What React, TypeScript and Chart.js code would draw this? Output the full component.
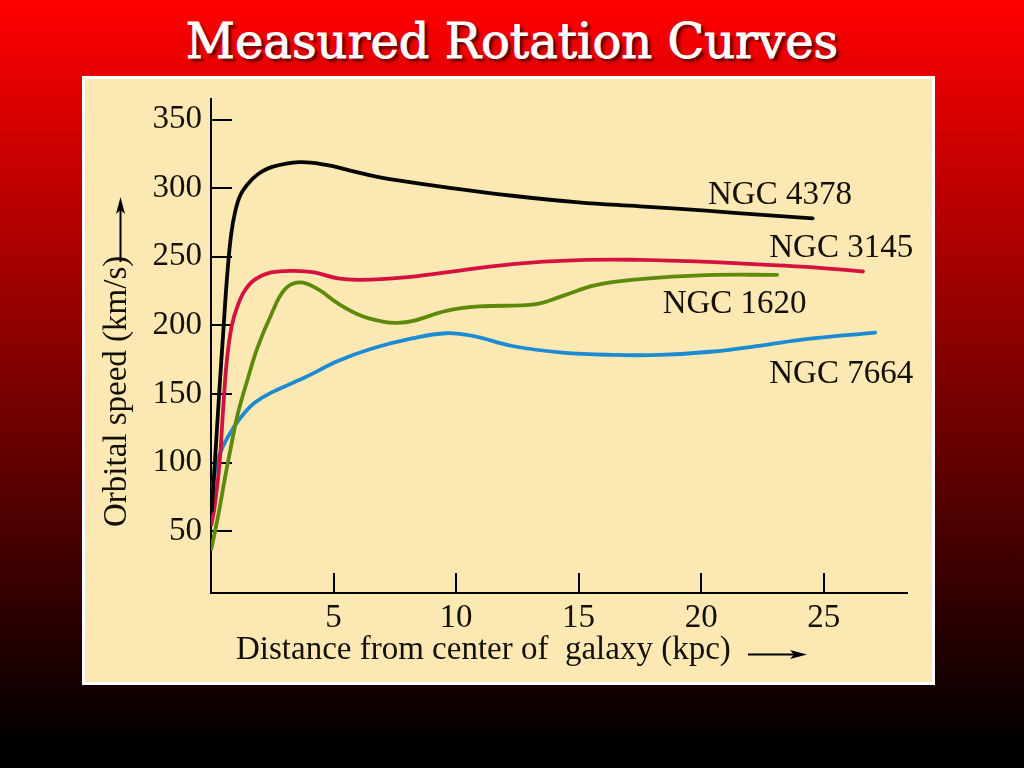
import React, { useEffect, useRef } from "react";
import { Chart, registerables } from "chart.js";

Chart.register(...registerables);

// ---- data ----
const xTicks = [5, 10, 15, 20, 25];
const yTicks = [50, 100, 150, 200, 250, 300, 350];

const ngc4378X = [0.03, 0.12, 0.21, 0.35, 0.5, 0.65, 0.82, 1.0, 1.2, 1.5, 1.9, 2.5, 3.6, 4.7, 5.65, 6.74, 7.7, 9.6, 12.3, 15.0, 17.5, 20.2, 22.5, 24.55];
const ngc4378Y = [65, 90, 115, 155, 195, 234, 266, 284, 295, 303, 310, 315.5, 319, 317, 313, 308.5, 305.5, 300.6, 294.5, 289.7, 286.8, 283.6, 280.5, 278];

const ngc3145X = [0.02, 0.15, 0.35, 0.5, 0.65, 0.85, 1.1, 1.4, 1.8, 2.46, 3.41, 4.22, 5.18, 6.13, 7.9, 9.6, 12.3, 15.0, 17.5, 19.5, 21.56, 24.28, 26.6];
const ngc3145Y = [55, 68, 100, 140, 175, 200, 215, 226, 233.5, 238.6, 239.8, 238.6, 234.2, 233.2, 235, 238.6, 244.7, 247.6, 247.8, 246.8, 245.2, 242.7, 239.3];

const ngc1620X = [0.01, 0.3, 0.56, 0.82, 1.1, 1.5, 1.9, 2.46, 3.0, 3.61, 4.36, 5.18, 6.13, 7.0, 7.6, 8.3, 9.6, 10.95, 13.27, 14.35, 15.7, 17.5, 20.2, 23.1];
const ngc1620Y = [37, 62, 88, 112, 136, 161, 184, 208, 226, 231.3, 226.4, 216, 207, 202.8, 201.8, 203.5, 210.6, 213.8, 215.5, 221.5, 229.3, 233.7, 236.6, 236.9];

const ngc7664X = [0.01, 0.04, 0.21, 0.49, 0.96, 1.37, 1.78, 2.46, 3.82, 5.18, 6.54, 8.2, 9.6, 10.68, 12.3, 14.35, 16.4, 18.3, 20.5, 22.5, 24.28, 27.1];
const ngc7664Y = [66, 75.5, 97.4, 112, 126.6, 136.4, 143.7, 151, 162, 174, 183, 190.5, 194.3, 192.3, 185, 180.2, 178.5, 178.5, 181, 185.5, 190, 194.8];

const seriesNames = ["NGC 4378", "NGC 3145", "NGC 1620", "NGC 7664"];
const seriesColors = ["#060606", "#d3123f", "#5e8a0c", "#1b8bd3"];
const labelX = [20.28, 22.78, 18.43, 22.78];
const labelY = [288.5, 250.1, 208.8, 157.8];

const xTitle = "Distance from center of  galaxy (kpc)";
const yTitle = "Orbital speed (km/s)";
const mainTitle = "Measured Rotation Curves";

const FONT = "'Liberation Serif', 'Times New Roman', serif";
const TEXT_COLOR = "#141008";
const CREAM = "#fce8b2";

function toPoints(xs: number[], ys: number[]) {
  return xs.map((x, i) => ({ x, y: ys[i] }));
}

const labelPlugin = {
  id: "curveLabels",
  afterDatasetsDraw(chart: any) {
    const { ctx, scales } = chart;
    ctx.save();
    ctx.font = `33px ${FONT}`;
    ctx.fillStyle = TEXT_COLOR;
    ctx.textAlign = "left";
    ctx.textBaseline = "alphabetic";
    seriesNames.forEach((name, i) => {
      ctx.fillText(name, scales.x.getPixelForValue(labelX[i]), scales.y.getPixelForValue(labelY[i]));
    });
    ctx.restore();
  },
};

export default function App() {
  const canvasRef = useRef<HTMLCanvasElement | null>(null);

  useEffect(() => {
    if (!canvasRef.current) return;
    const seriesX = [ngc4378X, ngc3145X, ngc1620X, ngc7664X];
    const seriesY = [ngc4378Y, ngc3145Y, ngc1620Y, ngc7664Y];
    const chart = new Chart(canvasRef.current, {
      type: "line",
      data: {
        datasets: seriesNames.map((name, i) => ({
          label: name,
          data: toPoints(seriesX[i], seriesY[i]),
          borderColor: seriesColors[i],
          borderWidth: 3.8,
          borderCapStyle: "round" as const,
          borderJoinStyle: "round" as const,
          pointRadius: 0,
          fill: false,
          tension: 0.4,
        })),
      },
      options: {
        animation: false,
        responsive: false,
        events: [],
        layout: { padding: { top: 20, right: 25, left: 0, bottom: 0 } },
        plugins: { legend: { display: false }, tooltip: { enabled: false }, title: { display: false } },
        scales: {
          x: {
            type: "linear",
            min: 0,
            max: 28.4,
            afterBuildTicks: (scale: any) => {
              scale.ticks = xTicks.map((v) => ({ value: v }));
            },
            afterFit: (scale: any) => {
              scale.height = 89;
              scale.paddingLeft = 0;
              scale.paddingRight = 0;
            },
            grid: { drawOnChartArea: false, drawTicks: true, tickLength: -20, color: "#000", lineWidth: 2 },
            border: { display: true, color: "#000", width: 2 },
            ticks: { padding: 26, color: TEXT_COLOR, font: { family: FONT, size: 33 }, maxRotation: 0, autoSkip: false },
          },
          y: {
            type: "linear",
            min: 5,
            max: 365,
            afterBuildTicks: (scale: any) => {
              scale.ticks = yTicks.map((v) => ({ value: v }));
            },
            afterFit: (scale: any) => {
              scale.width = 126;
              scale.paddingTop = 0;
              scale.paddingBottom = 0;
            },
            grid: { drawOnChartArea: false, drawTicks: true, tickLength: -21, color: "#000", lineWidth: 2 },
            border: { display: true, color: "#000", width: 2 },
            ticks: { padding: 30, color: TEXT_COLOR, font: { family: FONT, size: 33 }, autoSkip: false },
          },
        },
      },
      plugins: [labelPlugin],
    });
    return () => chart.destroy();
  }, []);

  return (
    <div
      style={{
        position: "fixed",
        left: 0,
        top: 0,
        width: 1024,
        height: 768,
        overflow: "hidden",
        background: "linear-gradient(to bottom, #ff0000 0%, #000000 97%)",
      }}
    >
      <div
        style={{
          position: "absolute",
          left: 0,
          top: 17,
          width: 1024,
          textAlign: "center",
          color: "#ffffff",
          fontFamily: "'DejaVu Serif', serif",
          fontSize: 48,
          lineHeight: "48px",
          whiteSpace: "pre",
          WebkitTextStroke: "0.9px #ffffff",
          textShadow: "3px 3px 3px rgba(40,0,0,0.85)",
        }}
      >
        {mainTitle}
      </div>
      <div
        style={{
          position: "absolute",
          left: 82,
          top: 76,
          width: 853,
          height: 609,
          boxSizing: "border-box",
          border: "3px solid #ffffff",
          background: CREAM,
        }}
      />
      <div style={{ position: "absolute", left: 85, top: 79, width: 847, height: 603 }}>
        <canvas ref={canvasRef} width={847} height={603} style={{ display: "block", width: 847, height: 603 }} />
      </div>
      <div
        style={{
          position: "absolute",
          left: 236,
          top: 632,
          fontFamily: FONT,
          fontSize: 33,
          lineHeight: "33px",
          color: TEXT_COLOR,
          whiteSpace: "pre",
        }}
      >
        {xTitle}
      </div>
      <svg style={{ position: "absolute", left: 746, top: 647 }} width={64} height={16}>
        <line x1={2} y1={7.5} x2={50} y2={7.5} stroke="#000" strokeWidth={2} />
        <polygon points="44,3 61,7.5 44,12 48,7.5" fill="#000" />
      </svg>
      <div
        style={{
          position: "absolute",
          left: 99,
          top: 527,
          transformOrigin: "0 0",
          transform: "rotate(-90deg)",
          fontFamily: FONT,
          fontSize: 33,
          lineHeight: "33px",
          color: TEXT_COLOR,
          whiteSpace: "pre",
        }}
      >
        {yTitle}
      </div>
      <svg style={{ position: "absolute", left: 113, top: 196 }} width={16} height={68}>
        <line x1={7.5} y1={66} x2={7.5} y2={14} stroke="#000" strokeWidth={2} />
        <polygon points="3,18 7.5,1 12,18 7.5,14" fill="#000" />
      </svg>
    </div>
  );
}
